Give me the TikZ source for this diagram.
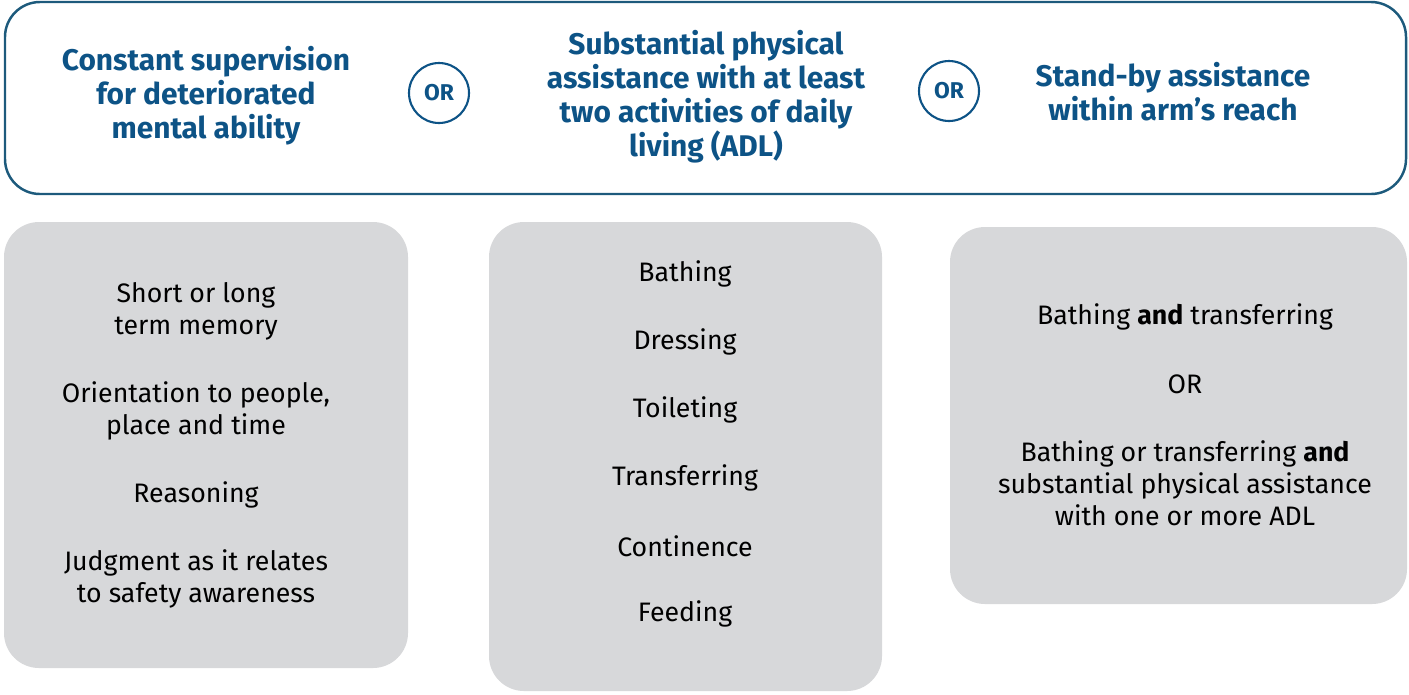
\documentclass[tikz,border=0pt]{standalone}
\usepackage{fontspec}
\setmainfont{Fira Sans}
\usetikzlibrary{positioning}

\definecolor{hdrblue}{HTML}{0D5386}
\definecolor{rimblue}{HTML}{1D5A7C}
\definecolor{panelgrey}{HTML}{D7D8DA}

\tikzset{
  headtxt/.style={text=hdrblue, font=\bfseries\fontsize{17}{19.3}\selectfont, align=center},
  itemtxt/.style={text=black, font=\fontsize{15.2}{18.1}\selectfont, align=center},
  orcircle/.style={circle, draw=hdrblue, line width=1.2pt, minimum size=1.2cm, inner sep=0pt,
                   text=hdrblue, font=\bfseries\fontsize{13}{15}\selectfont},
  panel/.style={fill=panelgrey, rounded corners=0.7cm},
}

\begin{document}
\begin{tikzpicture}[x=0.02cm, y=-0.02cm]
    \useasboundingbox (0,0) rectangle (1409,694);

    % Outer frame with the three conditions
    \draw[rimblue, line width=1.4pt, rounded corners=0.7cm] (5,2) rectangle (1406,194);

    \node[headtxt] (supervision) at (206,96) {Constant supervision\\for deteriorated\\mental ability};
    \node[orcircle] (orA) at (439,93) {OR};
    \node[headtxt] (physical) at (706,97) {Substantial physical\\assistance with at least\\two activities of daily\\living (ADL)};
    \node[orcircle] (orB) at (949,91) {OR};
    \node[headtxt] (standby) at (1173,92) {Stand-by assistance\\within arm's reach};

    % Grey panels
    \fill[panel] (4,222) rectangle (408,668);
    \fill[panel] (489,222) rectangle (882,691);
    \fill[panel] (950,227) rectangle (1407,604);

    % Mental ability
    \node[itemtxt] (memory) at (196,311) {Short or long\\term memory};
    \node[itemtxt] (orientation) at (196,411) {Orientation to people,\\place and time};
    \node[itemtxt] (reasoning) at (196,495) {Reasoning};
    \node[itemtxt] (judgment) at (196,579) {Judgment as it relates\\to safety awareness};

    % Activities of daily living
    \foreach \name/\y in {Bathing/274, Dressing/342, Toileting/410, Transferring/478, Continence/546, Feeding/614}
        \node[itemtxt] (\name) at (685,\y) {\name};

    % Stand-by
    \node[itemtxt] (both) at (1185,317) {Bathing \textbf{and} transferring};
    \node[itemtxt] (orC) at (1185,384) {OR};
    \node[itemtxt] (either) at (1185,483) {Bathing or transferring \textbf{and}\\substantial physical assistance\\with one or more ADL};
\end{tikzpicture}
\end{document}
